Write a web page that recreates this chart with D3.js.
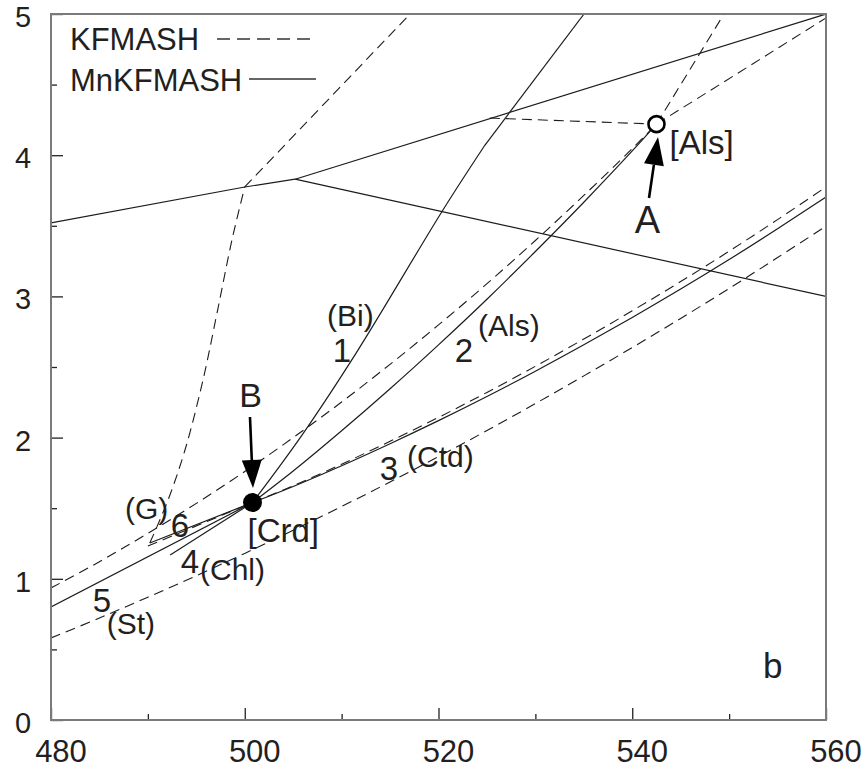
<!DOCTYPE html>
<html>
<head>
<meta charset="utf-8">
<script src="https://cdn.jsdelivr.net/npm/d3@7"></script>
<style>
  html, body { margin: 0; padding: 0; background: #fff; }
  svg text { font-family: "Liberation Sans", Arial, sans-serif; fill: #231f20; }
</style>
</head>
<body>
<svg id="chart" width="866" height="774"></svg>
<script>
// Axis domains and tick values
const xDomain = [480, 560];
const yDomain = [0, 5];
const xMajorTicks = [480, 500, 520, 540, 560];
const xMinorTicks = [490, 510, 530, 550];
const yMajorTicks = [0, 1, 2, 3, 4, 5];
const yMinorTicks = [0.5, 1.5, 2.5, 3.5, 4.5];

// Invariant points
const pointA = [542.5, 4.22];   // [Als], open circle
const pointB = [500.8, 1.54];   // [Crd], filled circle

// KFMASH reactions (dashed)
const kfmashG = [[490.2, 1.254], [492.08, 1.558], [493.83, 1.912], [495.69, 2.408], [497.19, 2.90], [498.68, 3.40], [500.0, 3.775]];
const kfmashGUpper = [[500.0, 3.775], [517.06, 5.0]];
const kfmashBi = [[480, 0.935], [485, 1.121], [490, 1.322], [495, 1.534], [500, 1.760], [505, 2.000], [510, 2.252], [515, 2.519], [520, 2.798], [525, 3.090], [530, 3.396], [535, 3.715], [540, 4.047], [542.5, 4.22]];
const kfmashChl = [[490.0, 1.232], [500.8, 1.54]];
const kfmashCtd = [[500.8, 1.54], [505, 1.659], [510, 1.812], [515, 1.974], [520, 2.143], [525, 2.320], [530, 2.505], [535, 2.698], [540, 2.898], [545, 3.105], [550, 3.320], [555, 3.544], [560, 3.775]];
const kfmashSt = [[480, 0.581], [485, 0.722], [490, 0.870], [495, 1.022], [500, 1.180], [505, 1.344], [510, 1.512], [515, 1.686], [520, 1.865], [525, 2.050], [530, 2.241], [535, 2.437], [540, 2.638], [545, 2.844], [550, 3.056], [555, 3.275], [560, 3.497]];
const kfmashAlsFlat = [[525.3, 4.263], [542.5, 4.22]];
const kfmashAlsSteep = [[542.5, 4.22], [549.47, 5.0]];
const kfmashAlsRight = [[542.5, 4.22], [560, 4.972]];

// MnKFMASH reactions (solid)
const mnTopLeft = [[480, 3.52], [500, 3.775], [505.2, 3.83]];
const mnTopRight = [[505.2, 3.83], [560, 5.0]];
const mnDown = [[505.2, 3.83], [560, 3.0]];
const mnBi = [[500.8, 1.54], [505.91, 2.018], [511.69, 2.620], [520.46, 3.612], [524.8, 4.072]];
const mnBiUpper = [[524.8, 4.072], [535.02, 5.0]];
const mnAls = [[500.8, 1.54], [505, 1.763], [510, 2.048], [515, 2.346], [520, 2.657], [525, 2.980], [530, 3.318], [535, 3.667], [540, 4.030], [542.5, 4.22]];
const mnCtd = [[500.8, 1.54], [505, 1.654], [510, 1.801], [515, 1.957], [520, 2.120], [525, 2.291], [530, 2.470], [535, 2.657], [540, 2.851], [545, 3.052], [550, 3.261], [555, 3.479], [560, 3.704]];
const mnChl = [[492.3, 1.169], [500.8, 1.54]];
const mnSt = [[480, 0.800], [500.8, 1.54]];
const mnG = [[490.2, 1.254], [500.8, 1.54]];

// Reaction labels: text, anchor point in data units
const labelText = ["(Bi)", "1", "2", "(Als)", "3", "(Ctd)", "(G)", "6", "4", "(Chl)", "5", "(St)"];
const labelPos = [[508.49, 2.79], [510.04, 2.535], [522.63, 2.535], [524.08, 2.72], [514.89, 1.70], [516.75, 1.79], [487.64, 1.424], [493.32, 1.296], [494.35, 1.041], [495.38, 0.99], [485.26, 0.765], [485.75, 0.609]];
const labelKind = ["name", "num", "num", "name", "num", "name", "name", "num", "num", "name", "num", "name"];

const legendNames = ["KFMASH", "MnKFMASH"];

const svg = d3.select("#chart");
const W = 866, H = 774;
const m = { left: 51, right: 40, top: 14, bottom: 54 };

const x = d3.scaleLinear().domain(xDomain).range([m.left, W - m.right]);
const y = d3.scaleLinear().domain(yDomain).range([H - m.bottom, m.top]);

svg.append("rect").attr("width", W).attr("height", H).attr("fill", "#fff");

const smooth = d3.line().x(d => x(d[0])).y(d => y(d[1])).curve(d3.curveCatmullRom.alpha(0.5));
const straight = d3.line().x(d => x(d[0])).y(d => y(d[1]));

const plot = svg.append("g");
plot.append("clipPath").attr("id", "clip").append("rect")
  .attr("x", x(480)).attr("y", y(5)).attr("width", x(560) - x(480)).attr("height", y(0) - y(5));
const lines = plot.append("g").attr("clip-path", "url(#clip)");

const dashedCurves = [kfmashG, kfmashBi, kfmashCtd, kfmashSt];
const dashedStraight = [kfmashGUpper, kfmashChl, kfmashAlsFlat, kfmashAlsSteep, kfmashAlsRight];
const solidCurves = [mnBi, mnAls, mnCtd];
const solidStraight = [mnTopLeft, mnTopRight, mnDown, mnBiUpper, mnChl, mnSt, mnG];

const lineColor = "#1c1c1c";
dashedCurves.forEach(d => lines.append("path").attr("d", smooth(d)).attr("fill", "none")
  .attr("stroke", lineColor).attr("stroke-width", 1.1).attr("stroke-dasharray", "10,6"));
dashedStraight.forEach(d => lines.append("path").attr("d", straight(d)).attr("fill", "none")
  .attr("stroke", lineColor).attr("stroke-width", 1.1).attr("stroke-dasharray", "10,6"));
solidCurves.forEach(d => lines.append("path").attr("d", smooth(d)).attr("fill", "none")
  .attr("stroke", lineColor).attr("stroke-width", 1.2));
solidStraight.forEach(d => lines.append("path").attr("d", straight(d)).attr("fill", "none")
  .attr("stroke", lineColor).attr("stroke-width", 1.2));

// Axes: ticks point inward
const gx = svg.append("g").attr("transform", `translate(0,${y(0)})`)
  .call(d3.axisBottom(x).tickValues(xMajorTicks).tickSize(-12).tickFormat(""));
const gxm = svg.append("g").attr("transform", `translate(0,${y(0)})`)
  .call(d3.axisBottom(x).tickValues(xMinorTicks).tickSize(-6).tickFormat(""));
const gy = svg.append("g").attr("transform", `translate(${x(480)},0)`)
  .call(d3.axisLeft(y).tickValues(yMajorTicks).tickSize(-12).tickFormat(""));
const gym = svg.append("g").attr("transform", `translate(${x(480)},0)`)
  .call(d3.axisLeft(y).tickValues(yMinorTicks).tickSize(-6).tickFormat(""));
[gx, gxm, gy, gym].forEach(g => {
  g.select(".domain").remove();
  g.selectAll("line").attr("stroke", "#222").attr("stroke-width", 1.3);
});

// Frame
svg.append("rect").attr("x", x(480)).attr("y", y(5))
  .attr("width", x(560) - x(480)).attr("height", y(0) - y(5))
  .attr("fill", "none").attr("stroke", "#7a7a7a").attr("stroke-width", 2);

// Tick labels
svg.append("g").selectAll("text").data(xMajorTicks).join("text")
  .attr("x", d => x(d) + 10).attr("y", y(0) + 42)
  .attr("text-anchor", "middle").attr("font-size", 31).text(d => d);
svg.append("g").selectAll("text").data(yMajorTicks).join("text")
  .attr("x", 23).attr("y", d => y(d) + 13)
  .attr("text-anchor", "middle").attr("font-size", 29).text(d => d);

// Legend
const legend = svg.append("g");
legend.append("text").attr("x", 70).attr("y", 50).attr("font-size", 31).text(legendNames[0]);
legend.append("text").attr("x", 70).attr("y", 91).attr("font-size", 31).text(legendNames[1]);
legend.append("line").attr("x1", 217).attr("x2", 316).attr("y1", 39).attr("y2", 39)
  .attr("stroke", "#666").attr("stroke-width", 2).attr("stroke-dasharray", "13,7");
legend.append("line").attr("x1", 249).attr("x2", 316).attr("y1", 79).attr("y2", 79)
  .attr("stroke", "#666").attr("stroke-width", 2);

// Reaction labels
svg.append("g").selectAll("text").data(labelText).join("text")
  .attr("x", (d, i) => x(labelPos[i][0]))
  .attr("y", (d, i) => y(labelPos[i][1]))
  .attr("text-anchor", (d, i) => labelKind[i] === "num" ? "middle" : "start")
  .attr("font-size", (d, i) => labelKind[i] === "num" ? 33 : 30)
  .text(d => d);

// Arrows to the invariant points
function arrow(from, to) {
  const x0 = x(from[0]), y0 = y(from[1]), x1 = x(to[0]), y1 = y(to[1]);
  const ang = Math.atan2(y1 - y0, x1 - x0);
  const L = 28, w = 10;
  const bx = x1 - L * Math.cos(ang), by = y1 - L * Math.sin(ang);
  svg.append("line").attr("x1", x0).attr("y1", y0).attr("x2", bx).attr("y2", by)
    .attr("stroke", "#000").attr("stroke-width", 2.6);
  const px = -Math.sin(ang) * w, py = Math.cos(ang) * w;
  svg.append("path").attr("d", `M${x1},${y1}L${bx + px},${by + py}L${bx - px},${by - py}Z`).attr("fill", "#000");
}
arrow([541.73, 3.697], [542.66, 4.129]);
arrow([500.54, 2.146], [500.85, 1.643]);

// Invariant point markers
svg.append("circle").attr("cx", x(pointA[0])).attr("cy", y(pointA[1])).attr("r", 8)
  .attr("fill", "#fff").attr("stroke", "#000").attr("stroke-width", 2.6);
svg.append("circle").attr("cx", x(pointB[0])).attr("cy", y(pointB[1])).attr("r", 9.5)
  .attr("fill", "#000");

// Point names
svg.append("text").attr("x", x(pointA[0]) - 9).attr("y", 233).attr("text-anchor", "middle").attr("font-size", 38).text("A");
svg.append("text").attr("x", x(pointB[0]) - 2).attr("y", 407).attr("text-anchor", "middle").attr("font-size", 34).text("B");
svg.append("text").attr("x", x(pointA[0]) + 13).attr("y", 154).attr("font-size", 33).text("[Als]");
svg.append("text").attr("x", x(pointB[0]) - 5).attr("y", 542).attr("font-size", 33).text("[Crd]");
svg.append("text").attr("x", 763).attr("y", 678).attr("font-size", 35).text("b");
</script>
</body>
</html>
